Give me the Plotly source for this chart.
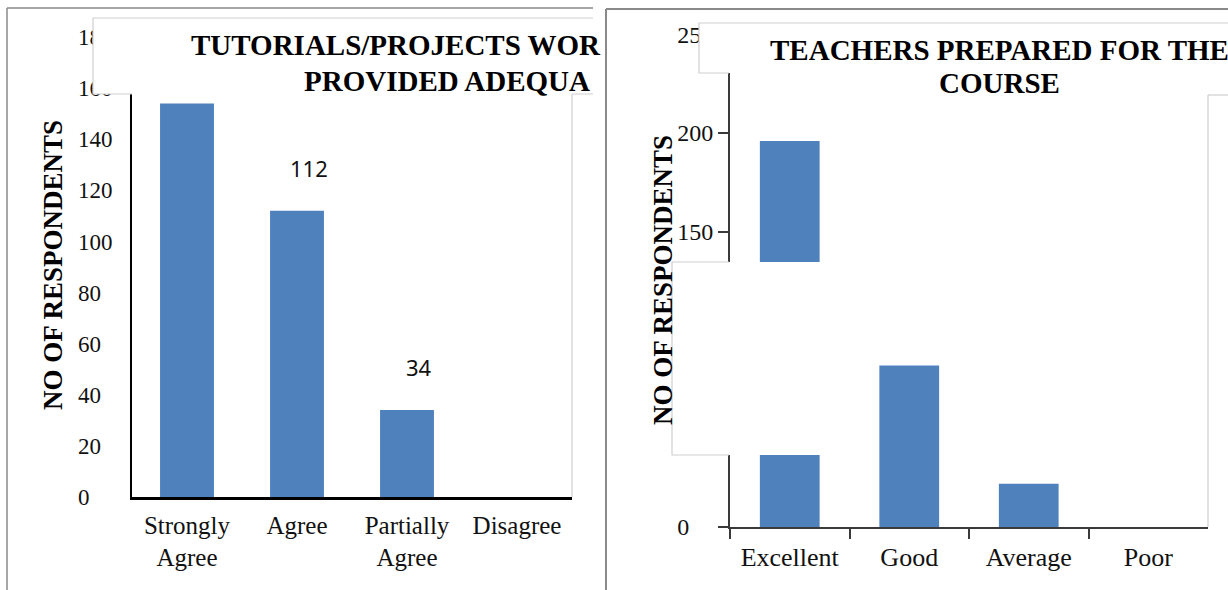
import plotly.graph_objects as go

W, H = 1228, 590
NB = "\u00a0"

# ---------------- data ----------------
left_categories = ["Strongly<br>Agree", "Agree", "Partially<br>Agree", "Disagree"]
left_values = [154, 112, 34, 0]
left_labelled = [1, 2]
left_yticks = [0, 20, 40, 60, 80, 100, 120, 140, 160, 180]
left_yticktext = ["0" + NB * 4, "20" + NB * 2, "40" + NB * 2, "60" + NB * 2, "80" + NB * 2,
                  "100", "120", "140", "160", "180"]

right_categories = ["Excellent", "Good", "Average", "Poor"]
right_values = [196, 82, 22, 0]
right_yticks = [0, 50, 100, 150, 200, 250]
right_yticktext = ["0" + NB * 4, "50" + NB * 2, "100", "150", "200", "250"]

left_title = ["TUTORIALS/PROJECTS WOR", "PROVIDED ADEQUA"]
right_title = ["TEACHERS PREPARED FOR THE", "COURSE"]
y_title = "NO OF RESPONDENTS"

BAR = "#4F81BD"
SERIF = "Liberation Serif"


def fx(p):
    return p / W


def fy(p):
    return 1 - p / H


fig = go.Figure()
fig.add_trace(go.Bar(x=left_categories, y=left_values, width=0.49,
                     marker=dict(color=BAR, line=dict(width=0)),
                     xaxis="x", yaxis="y", hoverinfo="x+y"))
fig.add_trace(go.Bar(x=right_categories, y=right_values, width=0.5,
                     marker=dict(color=BAR, line=dict(width=0)),
                     xaxis="x2", yaxis="y2", hoverinfo="x+y"))

common = dict(fixedrange=True, automargin=False, showgrid=False, zeroline=False)
fig.update_layout(
    width=W, height=H, autosize=False,
    margin=dict(l=0, r=0, t=0, b=0, pad=0),
    paper_bgcolor="white", plot_bgcolor="rgba(0,0,0,0)",
    showlegend=False,
    font=dict(family=SERIF, color="black"),
    xaxis=dict(domain=[fx(132), fx(572)], range=[-0.5, 3.5], anchor="y",
               showline=True, linecolor="black", linewidth=2.5, ticks="",
               tickfont=dict(family=SERIF, size=25, color="#111"), ticklabelstandoff=4,
               **common),
    yaxis=dict(domain=[fy(497), fy(37)], range=[0, 180], anchor="x",
               showline=True, linecolor="black", linewidth=2, ticks="",
               tickvals=left_yticks, ticktext=left_yticktext,
               tickfont=dict(family=SERIF, size=23, color="#111"), ticklabelstandoff=13,
               **common),
    xaxis2=dict(domain=[fx(730), fx(1208)], range=[-0.5, 3.5], anchor="y2",
                showline=True, linecolor="#3a3a3a", linewidth=2, ticks="outside",
                ticklen=10, tickwidth=2, tickcolor="#3a3a3a", tickson="boundaries",
                tickfont=dict(family=SERIF, size=26, color="#111"), ticklabelstandoff=6,
                **common),
    yaxis2=dict(domain=[fy(527), fy(527 - 250 * 1.97)], range=[0, 250], anchor="x2",
                showline=True, linecolor="#3a3a3a", linewidth=2, ticks="outside",
                ticklen=10, tickwidth=2, tickcolor="#3a3a3a",
                tickvals=right_yticks, ticktext=right_yticktext,
                tickfont=dict(family=SERIF, size=24, color="#111"), **common),
)

FRAME = "#8a8a8a"
FAINT = "#cfcfcf"


def line(x0, y0, x1, y1, color, width):
    fig.add_shape(type="line", xref="paper", yref="paper",
                  x0=fx(x0), y0=fy(y0), x1=fx(x1), y1=fy(y1),
                  line=dict(color=color, width=width))


def rect(x0, y0, x1, y1):
    fig.add_shape(type="rect", xref="paper", yref="paper",
                  x0=fx(x0), y0=fy(y0), x1=fx(x1), y1=fy(y1),
                  fillcolor="white", line=dict(width=0))


def path(points, color, width):
    d = ""
    for cmd, px, py in points:
        d += f"{cmd} {fx(px)},{fy(py)} "
    fig.add_shape(type="path", xref="paper", yref="paper", path=d.strip(),
                  line=dict(color=color, width=width))


# outer frames of the two panels
line(7, 8, 593, 8, FRAME, 1.5)
line(7, 8, 7, 595, FRAME, 1.5)
line(606, 9, 1230, 9, FRAME, 2)
line(606, 9, 606, 595, FRAME, 2)

# left panel: title box and plot-area edge
rect(93, 18, 593, 94)
path([("M", 132, 94), ("L", 93, 94), ("L", 93, 18), ("L", 593, 18),
      ("M", 593, 94), ("L", 572, 94)], FAINT, 1.2)
line(572, 94, 572, 497, FAINT, 1.2)

# right panel: title box, occluding box and plot-area edge
rect(699, 23, 1230, 73)
path([("M", 729, 73), ("L", 699, 73), ("L", 699, 23), ("L", 1230, 23)], FAINT, 1.2)
rect(672, 262, 849, 455)
path([("M", 729, 262), ("L", 672, 262), ("L", 672, 455), ("L", 729, 455)], FAINT, 1.2)
line(1208, 95, 1208, 527, FAINT, 1.2)
line(1208, 95, 1230, 95, FAINT, 1.2)

TITLE_FONT = dict(family=SERIF, size=29, color="black")
ann = []
ann.append(dict(text=f"<b>{left_title[0]}</b>", x=fx(189), y=fy(45), xanchor="left",
                yanchor="middle", font=TITLE_FONT))
ann.append(dict(text=f"<b>{left_title[1]}</b>", x=fx(302), y=fy(81), xanchor="left",
                yanchor="middle", font=TITLE_FONT))
ann.append(dict(text=f"<b>{right_title[0]}</b>", x=fx(999), y=fy(50), xanchor="center",
                yanchor="middle", font=TITLE_FONT))
ann.append(dict(text=f"<b>{right_title[1]}</b>", x=fx(999), y=fy(83), xanchor="center",
                yanchor="middle", font=TITLE_FONT))
YT_FONT = dict(family=SERIF, size=27, color="black")
ann.append(dict(text=f"<b>{y_title}</b>", x=fx(53), y=fy(265), textangle=-90,
                xanchor="center", yanchor="middle", font=YT_FONT))
ann.append(dict(text=f"<b>{y_title}</b>", x=fx(663), y=fy(280), textangle=-90,
                xanchor="center", yanchor="middle", font=YT_FONT))
for a in ann:
    a.update(xref="paper", yref="paper", showarrow=False)

for i in left_labelled:
    ann.append(dict(text=str(left_values[i]), x=left_categories[i], y=left_values[i],
                    xref="x", yref="y", showarrow=False, yshift=43, xshift=12,
                    font=dict(family="Noto Sans", size=22, color="#111")))

fig.update_layout(annotations=ann)

fig.write_html("out.html", config={"displayModeBar": False},
               post_script="document.body.style.margin='0';document.body.style.overflow='hidden';")
